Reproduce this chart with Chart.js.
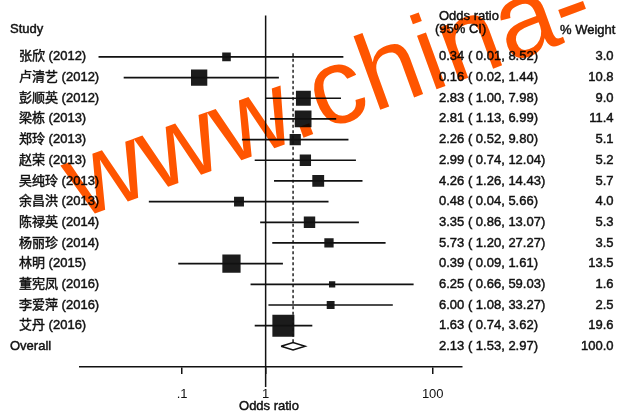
<!DOCTYPE html>
<html>
<head>
<meta charset="utf-8">
<script src="https://cdn.jsdelivr.net/npm/chart.js@4.4.1/dist/chart.umd.min.js"></script>
<style>
  html, body { margin: 0; padding: 0; background: #fff; }
  #wrap { width: 617px; height: 411px; }
</style>
</head>
<body>
<div id="wrap"><canvas id="forest"></canvas></div>
<script>
// study data
var studies = ['张欣 (2012)', '卢清艺 (2012)', '彭顺英 (2012)', '梁栋 (2013)', '郑玲 (2013)',
    '赵荣 (2013)', '吴纯玲 (2013)', '余昌洪 (2013)', '陈禄英 (2014)', '杨丽珍 (2014)',
    '林明 (2015)', '董宪凤 (2016)', '李爱萍 (2016)', '艾丹 (2016)'];
var oddsRatio = [0.34, 0.16, 2.83, 2.81, 2.26, 2.99, 4.26, 0.48, 3.35, 5.73, 0.39, 6.25, 6.00, 1.63];
var ciLow     = [0.01, 0.02, 1.00, 1.13, 0.52, 0.74, 1.26, 0.04, 0.86, 1.20, 0.09, 0.66, 1.08, 0.74];
var ciHigh    = [8.52, 1.44, 7.98, 6.99, 9.80, 12.04, 14.43, 5.66, 13.07, 27.27, 1.61, 59.03, 33.27, 3.62];
var weight    = [3.0, 10.8, 9.0, 11.4, 5.1, 5.2, 5.7, 4.0, 5.3, 3.5, 13.5, 1.6, 2.5, 19.6];

var overall = { label: 'Overall', or: 2.13, low: 1.53, high: 2.97, weight: 100.0 };

var tickValues = [0.1, 1, 100];
var tickLabels = ['.1', '1', '100'];

var FONT = 'Liberation Sans, "Noto Sans CJK SC", sans-serif';
var INK = '#111';
var overallRow = studies.length + 1;

function fmtCI(o, l, h) {
    return o.toFixed(2) + ' ( ' + l.toFixed(2) + ', ' + h.toFixed(2) + ')';
}

var datasets = [];

// line of no effect
datasets.push({
    type: 'scatter', showLine: true, clip: false,
    data: [{ x: 1, y: -1 }, { x: 1, y: 16.97 }],
    borderColor: INK, borderWidth: 1.5, pointRadius: 0
});

// pooled estimate, dashed
datasets.push({
    type: 'scatter', showLine: true,
    data: [{ x: overall.or, y: 0.83 }, { x: overall.or, y: overallRow - 0.2 }],
    borderColor: INK, borderWidth: 1.4, borderDash: [3, 2.5], pointRadius: 0
});

// confidence intervals
studies.forEach(function (s, i) {
    datasets.push({
        type: 'scatter', showLine: true,
        data: [{ x: ciLow[i], y: i + 1 }, { x: ciHigh[i], y: i + 1 }],
        borderColor: INK, borderWidth: 1.7, pointRadius: 0
    });
});

// weighted boxes
datasets.push({
    type: 'scatter',
    data: oddsRatio.map(function (v, i) { return { x: v, y: i + 1 }; }),
    pointStyle: 'rect',
    pointRadius: weight.map(function (w) { return 3.51 * Math.sqrt(w); }),
    pointBackgroundColor: '#1c1c1c',
    pointBorderWidth: 0
});

// overall diamond
datasets.push({
    type: 'scatter', showLine: true, fill: false,
    data: [
        { x: overall.low, y: overallRow },
        { x: overall.or, y: overallRow - 0.18 },
        { x: overall.high, y: overallRow },
        { x: overall.or, y: overallRow + 0.18 },
        { x: overall.low, y: overallRow }
    ],
    borderColor: INK, borderWidth: 1.5, pointRadius: 0, tension: 0
});

function label(ctx, s, x, y) {
    ctx.fillText(s, x, y);
    ctx.strokeText(s, x, y);
}

var textPlugin = {
    id: 'forestText',
    afterDraw: function (chart) {
        var ctx = chart.ctx;
        var ys = chart.scales.y;
        ctx.save();
        ctx.fillStyle = INK;
        ctx.strokeStyle = INK;
        ctx.lineWidth = 0.45;
        ctx.font = '13px ' + FONT;
        ctx.textBaseline = 'middle';

        ctx.textAlign = 'left';
        label(ctx, 'Study', 10, 29);
        label(ctx, 'Odds ratio', 439, 16.5);
        label(ctx, '(95% CI)', 435, 29.5);
        label(ctx, '% Weight', 560, 30);

        studies.forEach(function (s, i) {
            var y = ys.getPixelForValue(i + 1);
            ctx.textAlign = 'left';
            label(ctx, s, 19, y);
            label(ctx, fmtCI(oddsRatio[i], ciLow[i], ciHigh[i]), 439, y);
            ctx.textAlign = 'right';
            label(ctx, weight[i].toFixed(1), 613.5, y);
        });

        var yo = ys.getPixelForValue(overallRow);
        ctx.textAlign = 'left';
        label(ctx, overall.label, 10, yo);
        label(ctx, fmtCI(overall.or, overall.low, overall.high), 439, yo);
        ctx.textAlign = 'right';
        label(ctx, overall.weight.toFixed(1), 613.5, yo);

        ctx.textAlign = 'center';
        label(ctx, 'Odds ratio', 269, 406);

        // site watermark laid over the figure
        ctx.globalCompositeOperation = 'multiply';
        ctx.fillStyle = '#ff5500';
        ctx.font = '108px Liberation Sans, sans-serif';
        ctx.textAlign = 'left';
        ctx.textBaseline = 'alphabetic';
        ctx.translate(80, 219);
        ctx.rotate(-20 * Math.PI / 180);
        ctx.fillText('www.china-', 0, 0);
        ctx.restore();
    }
};

new Chart(document.getElementById('forest'), {
    type: 'scatter',
    data: { datasets: datasets },
    plugins: [textPlugin],
    options: {
        responsive: true,
        maintainAspectRatio: false,
        animation: false,
        layout: { padding: { left: 80, right: 155, top: 14, bottom: 0 } },
        plugins: { legend: { display: false }, tooltip: { enabled: false } },
        scales: {
            x: {
                type: 'logarithmic',
                min: 0.006,
                max: 224,
                afterFit: function (scale) { scale.height = 44; },
                afterBuildTicks: function (scale) {
                    scale.ticks = tickValues.map(function (v) { return { value: v }; });
                },
                ticks: {
                    color: INK,
                    font: { family: FONT, size: 13 },
                    padding: 13,
                    maxRotation: 0,
                    callback: function (v) {
                        var k = tickValues.indexOf(v);
                        return k >= 0 ? tickLabels[k] : '';
                    }
                },
                grid: { drawOnChartArea: false, tickLength: 7, color: INK, lineWidth: 1.5 },
                border: { display: true, color: INK, width: 1.5 }
            },
            y: {
                display: false,
                min: -1,
                max: 16,
                reverse: true
            }
        }
    }
});
</script>
</body>
</html>
